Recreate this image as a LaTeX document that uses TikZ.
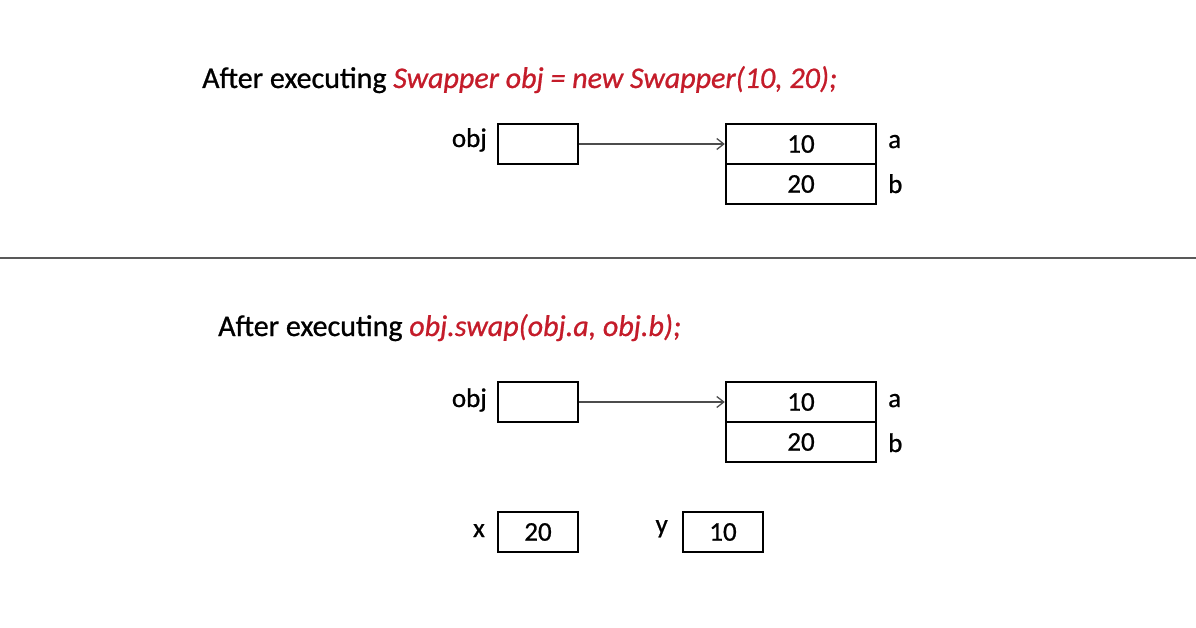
\documentclass[tikz,border=0pt]{standalone}
\usepackage{fontspec}
\setmainfont{Carlito}[FakeBold=0.8]
\usetikzlibrary{arrows.meta}
\definecolor{codered}{RGB}{196,28,42}
\tikzset{
  cell/.style={draw, line width=2.4pt, minimum width=80pt, minimum height=40pt, inner sep=0pt, font=\fontsize{27}{29}\selectfont},
  fieldcell/.style={draw, line width=2.4pt, minimum width=150pt, minimum height=40pt, inner sep=0pt, font=\fontsize{27}{29}\selectfont},
  lbl/.style={font=\fontsize{27}{29}\selectfont, inner sep=0pt},
  headline/.style={font=\fontsize{30}{32}\selectfont, inner sep=0pt, anchor=base west},
  ref/.style={-{Straight Barb[length=7pt,width=11pt]}, line width=1.3pt, draw=black!70},
}
\begin{document}
\begin{tikzpicture}[x=1pt,y=-1pt]
\useasboundingbox (0,0) rectangle (1196,628);
% top part
\node[headline] (h1) at (202,88) {After executing \textcolor{codered}{\itshape Swapper obj = new Swapper(10, 20);}};
\node[cell] (obj1) at (538,144) {};
\node[lbl, anchor=base east] (obj1l) at (487,147) {obj};
\node[fieldcell] (a1) at (801,144) {10};
\node[fieldcell] (b1) at (801,184) {20};
\node[lbl, anchor=base west] (a1l) at (888,148) {a};
\node[lbl, anchor=base west] (b1l) at (888,193) {b};
\draw[ref] (obj1.east) -- (a1.west);
% separator
\draw[line width=2pt, draw=black!65] (0,258) -- (1196,258);
% bottom part
\node[headline] (h2) at (218,336) {After executing \textcolor{codered}{\itshape obj.swap(obj.a, obj.b);}};
\node[cell] (obj2) at (538,402) {};
\node[lbl, anchor=base east] (obj2l) at (487,407) {obj};
\node[fieldcell] (a2) at (801,402) {10};
\node[fieldcell] (b2) at (801,442) {20};
\node[lbl, anchor=base west] (a2l) at (888,407) {a};
\node[lbl, anchor=base west] (b2l) at (888,452) {b};
\draw[ref] (obj2.east) -- (a2.west);
\node[cell] (xbox) at (538,532) {20};
\node[lbl, anchor=base east] (xl) at (485,537) {x};
\node[cell] (ybox) at (723,532) {10};
\node[lbl, anchor=base east] (yl) at (668,533) {y};
\end{tikzpicture}
\end{document}
